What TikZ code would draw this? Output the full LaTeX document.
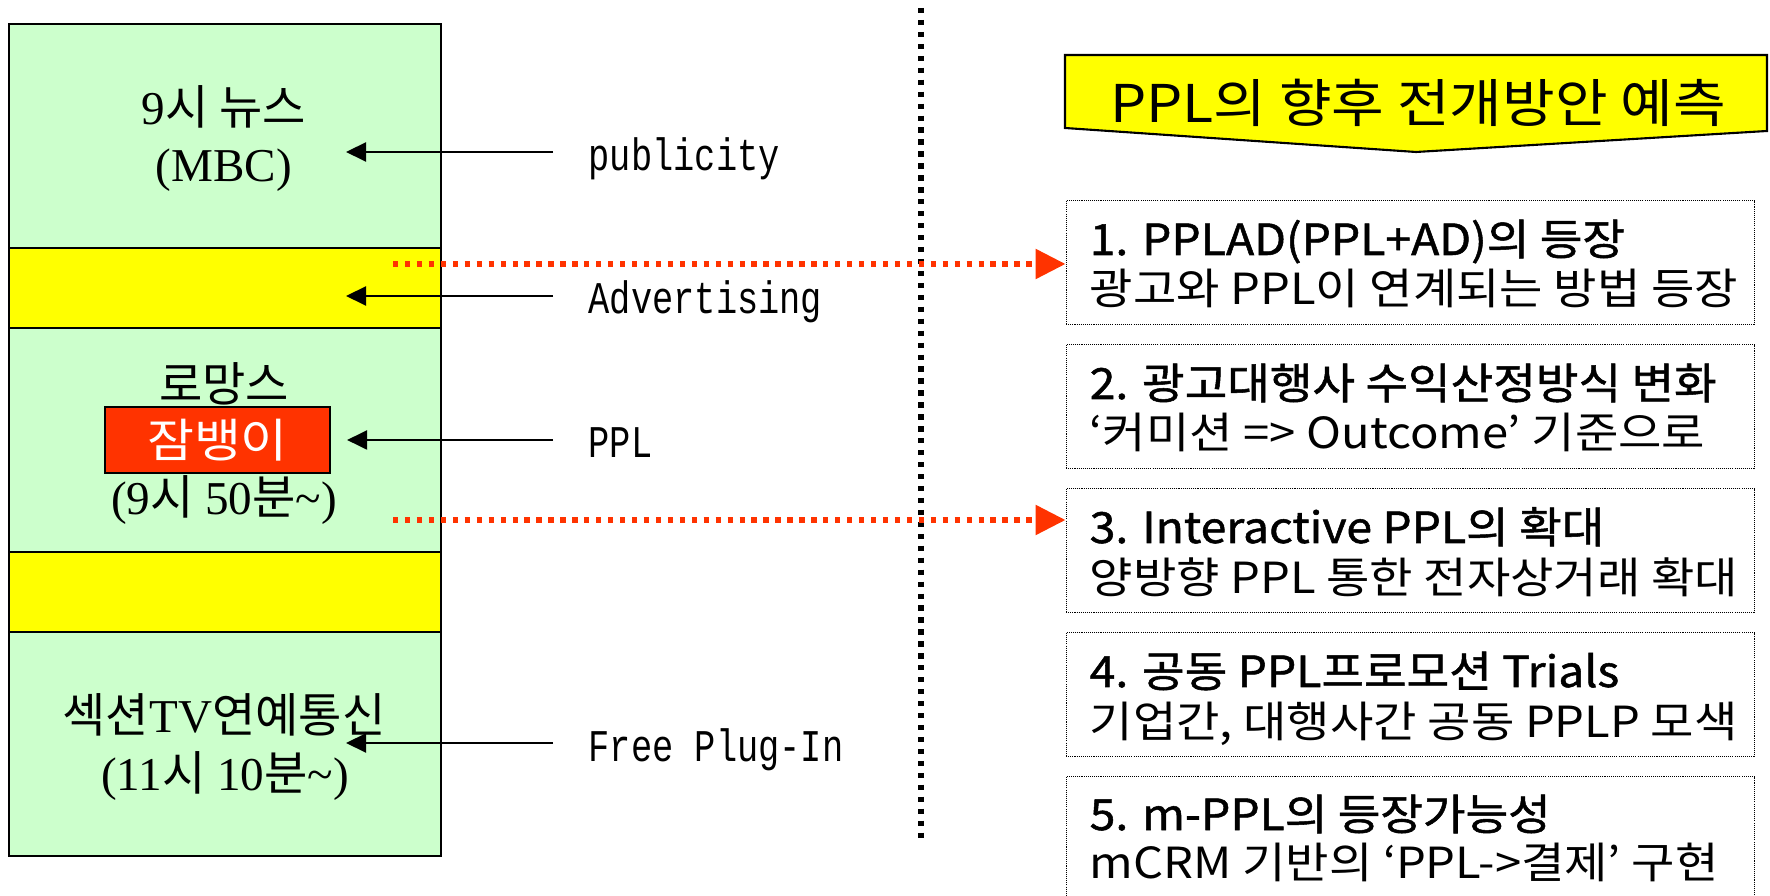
\documentclass[tikz,border=0pt]{standalone}
\usepackage{fontspec}
\setmainfont{Liberation Serif}
\newfontfamily\krfont{Noto Sans CJK KR}
\newfontfamily\krwide[FakeStretch=1.1]{Noto Sans CJK KR}
\newfontfamily\krhead[FakeStretch=1.08,FakeBold=1.2]{Noto Sans CJK KR}
\newfontfamily\lblfont[FakeStretch=0.78]{Liberation Mono}
\usetikzlibrary{arrows.meta}
\definecolor{tvgreen}{HTML}{CCFFCC}
\definecolor{adyellow}{HTML}{FFFF00}
\definecolor{pplred}{HTML}{FF3300}
\tikzset{
  prog/.style={font=\fontsize{13.4}{16}\selectfont, anchor=base},
  side/.style={font=\lblfont\fontsize{12.9}{15}\selectfont, anchor=base west, inner sep=0pt},
  larrow/.style={line width=0.6pt, -{Triangle[length=2mm,width=1.9mm]}, shorten <=3.5mm},
  redarrow/.style={pplred, line width=1.6pt, dash pattern=on 1.5pt off 1.9pt, -{Triangle[length=3mm,width=2.9mm]}},
  tbox/.style={draw, line width=0.3pt, dash pattern=on 0.3pt off 0.3pt, minimum width=6.885cm, minimum height=1.24cm, anchor=north west, inner sep=0pt},
  tline/.style={font=\krwide\fontsize{12.2}{14}\selectfont, anchor=base west, inner sep=0pt},
  thead/.style={tline, font=\krhead\fontsize{12.2}{14}\selectfont},
}
\begin{document}
\begin{tikzpicture}
    \useasboundingbox (0,0) rectangle (17.7,8.95);
    % Program column
    \draw[line width=0.6pt, fill=tvgreen] (0.09,0.39) rectangle (4.41,8.71);
    \draw[line width=0.6pt, fill=adyellow] (0.09,5.67) rectangle (4.41,6.47);
    \draw[line width=0.6pt, fill=adyellow] (0.09,2.63) rectangle (4.41,3.43);
    \node[prog] (news) at (2.24,7.70) {9{\krfont 시 뉴스}};
    \node[prog] (mbc) at (2.24,7.13) {(MBC)};
    \node[prog] (roman) at (2.24,4.93) {\krfont 로망스};
    \node[draw, line width=0.6pt, fill=pplred, text=white, minimum width=2.25cm, minimum height=0.64cm, font=\krwide\fontsize{13.2}{15}\selectfont] (jam) at (2.175,4.55) {잠뱅이};
    \node[prog] (time1) at (2.24,3.80) {(9{\krfont 시} 50{\krfont 분}\textasciitilde)};
    \node[prog] (sect) at (2.24,1.62) {{\krfont 섹션}TV{\krfont 연예통신}};
    \node[prog] (time2) at (2.25,1.05) {(11{\krfont 시} 10{\krfont 분}\textasciitilde)};
    % Labels and arrows
    \coordinate (t1) at (3.46,7.43);
    \coordinate (t2) at (3.46,5.99);
    \coordinate (t3) at ([xshift=1.6mm]jam.east);
    \coordinate (t4) at (3.46,1.52);
    \node[side] (pub) at (5.88,7.24) {publicity};
    \node[side] (adv) at (5.88,5.81) {Advertising};
    \node[side] (ppl) at (5.88,4.37) {PPL};
    \node[side] (fpi) at (5.88,1.33) {Free Plug-In};
    \draw[larrow] (pub.west |- t1) -- (t1);
    \draw[larrow] (adv.west |- t2) -- (t2);
    \draw[larrow] (ppl.west |- t3) -- (t3);
    \draw[larrow] (fpi.west |- t4) -- (t4);
    % Divider
    \draw[line width=1.5pt, dash pattern=on 1.5pt off 1.9pt] (9.21,8.87) -- (9.21,0.57);
    % Title banner
    \draw[line width=0.6pt, fill=adyellow] (10.65,8.40) -- (17.67,8.40) -- (17.67,7.64) -- (14.16,7.43) -- (10.65,7.67) -- cycle;
    \node[font=\krwide\fontsize{14.8}{17}\selectfont] (title) at (14.18,7.92) {PPL의 향후 전개방안 예측};
    % Forecast boxes
    \node[tbox] (b1) at (10.655,6.95) {};
    \node[thead] at (10.89,6.40) {1. PPLAD(PPL+AD)의 등장};
    \node[tline] at (10.89,5.90) {광고와 PPL이 연계되는 방법 등장};
    \node[tbox] (b2) at (10.655,5.51) {};
    \node[thead] at (10.89,4.96) {2. 광고대행사 수익산정방식 변화};
    \node[tline] at (10.89,4.46) {‘커미션 => Outcome’ 기준으로};
    \node[tbox] (b3) at (10.655,4.07) {};
    \node[thead] at (10.89,3.52) {3. Interactive PPL의 확대};
    \node[tline] at (10.89,3.01) {양방향 PPL 통한 전자상거래 확대};
    \node[tbox] (b4) at (10.655,2.63) {};
    \node[thead] at (10.89,2.08) {4. 공동 PPL프로모션 Trials};
    \node[tline] at (10.89,1.57) {기업간, 대행사간 공동 PPLP 모색};
    \node[tbox] (b5) at (10.655,1.19) {};
    \node[thead] at (10.89,0.65) {5. m-PPL의 등장가능성};
    \node[tline] at (10.89,0.17) {mCRM 기반의 ‘PPL->결제’ 구현};
    % Red links
    \coordinate (r1) at (3.93,6.31);
    \coordinate (r2) at (3.93,3.75);
    \draw[redarrow] (r1) -- (r1 -| b1.west);
    \draw[redarrow] (r2) -- (r2 -| b3.west);
\end{tikzpicture}
\end{document}
